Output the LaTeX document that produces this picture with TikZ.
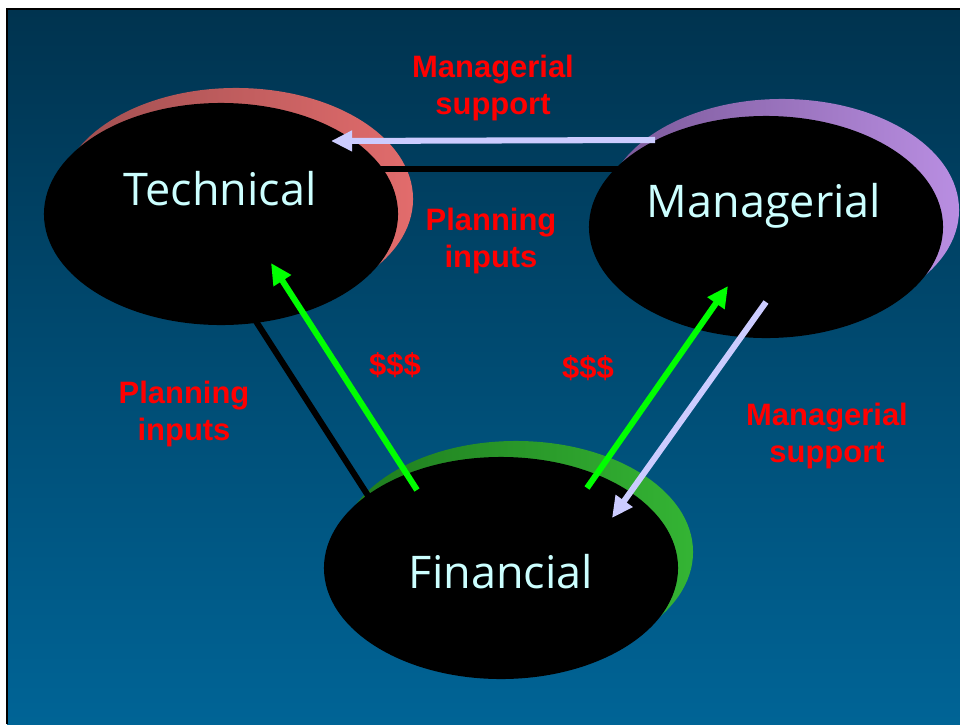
\documentclass[tikz,border=0pt]{standalone}
\usepackage{fontspec}
\setmainfont{Liberation Sans}
\newfontfamily\ovalfont{Open Sans}
\usetikzlibrary{shapes.geometric,arrows.meta}

\definecolor{bgtop}{HTML}{00334F}
\definecolor{bgbot}{HTML}{006496}
\definecolor{ovaltext}{HTML}{CCFFFF}
\definecolor{lavender}{HTML}{CCCCFF}
\definecolor{brightgreen}{HTML}{00FF00}
\definecolor{redshL}{HTML}{9E4E50}
\definecolor{redshR}{HTML}{E26C6C}
\definecolor{purshL}{HTML}{7A5898}
\definecolor{purshR}{HTML}{B98EE2}
\definecolor{grnshL}{HTML}{1E7A1E}
\definecolor{grnshR}{HTML}{34B434}

\tikzset{
  ovalsize/.style={ellipse, minimum width=8.85cm, minimum height=5.55cm, inner sep=0pt},
  oval/.style={ovalsize, fill=black},
  redshadow/.style={ovalsize, left color=redshL, right color=redshR},
  purpleshadow/.style={ovalsize, left color=purshL, right color=purshR},
  greenshadow/.style={ovalsize, left color=grnshL, right color=grnshR},
  link/.style={line width=4.3pt, black},
  flow/.style={line width=4.3pt, -{Triangle[length=15pt,width=14pt]}},
  lbl/.style={text=red, font=\bfseries\fontsize{22}{26.2}\selectfont, align=center, anchor=base, inner sep=0pt},
  ovalname/.style={text=ovaltext, font=\ovalfont\fontsize{32}{38}\selectfont, anchor=base, inner sep=0pt}
}

\begin{document}
\begin{tikzpicture}[x=0.025cm, y=-0.025cm]
  % page with the slide panel and its framing edge
  \useasboundingbox (0,0) rectangle (960,724);
  \fill[white] (0,0) rectangle (960,724);
  \shade[top color=bgtop, bottom color=bgbot] (7,9) rectangle (960,724);
  \draw[black, line width=1pt] (7,724) -- (7,9) -- (960,9);

  % coloured shadows behind the three ovals
  \node[redshadow]    (techsh) at (236,199) {};
  \node[purpleshadow] (mgrsh)  at (782,210) {};
  \node[greenshadow]  (finsh)  at (516,552) {};

  % black links between the ovals
  \coordinate (tmA) at (350,169);
  \coordinate (tmB) at (650,169);
  \coordinate (tfA) at (250,312);
  \coordinate (tfB) at (376,508);
  \draw[link] (tmA) -- (tmB);
  \draw[link] (tfA) -- (tfB);

  % the three ovals
  \node[oval] (tech) at (221,214) {};
  \node[oval] (mgr)  at (766,227) {};
  \node[oval] (fin)  at (501,568) {};

  \node[ovalname] (techname) at (220,205) {Technical};
  \node[ovalname] (mgrname)  at (764,217) {Managerial};
  \node[ovalname] (finname)  at (501,588) {Financial};

  % arrow end points
  \coordinate (supA) at (655,140);
  \coordinate (supB) at (331,141);
  \coordinate (ftA)  at (417,490);
  \coordinate (ftB)  at (271,263);
  \coordinate (fmA)  at (587,488);
  \coordinate (fmB)  at (728,286);
  \coordinate (mfA)  at (766,302);
  \coordinate (mfB)  at (612,518);

  \draw[flow, lavender]    (supA) -- (supB);
  \draw[flow, brightgreen] (ftA) -- (ftB);
  \draw[flow, brightgreen] (fmA) -- (fmB);
  \draw[flow, lavender]    (mfA) -- (mfB);

  % labels (anchored on the baseline of their last line)
  \node[lbl] (l1) at (493,114) {Managerial\\support};
  \node[lbl] (l2) at (491,267) {Planning\\inputs};
  \node[lbl] (l3) at (184,440) {Planning\\inputs};
  \node[lbl] (l4) at (395,375) {\$\$\$};
  \node[lbl] (l5) at (588,378) {\$\$\$};
  \node[lbl] (l6) at (827,462) {Managerial\\support};
\end{tikzpicture}
\end{document}
